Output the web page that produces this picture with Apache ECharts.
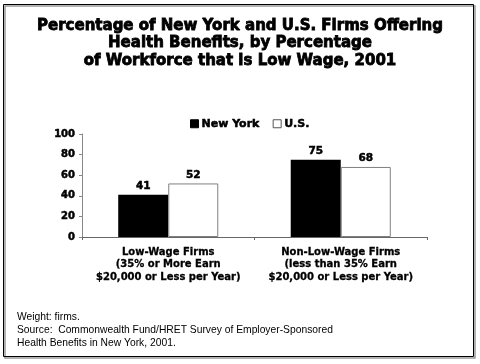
<!DOCTYPE html>
<html>
<head>
<meta charset="utf-8">
<script src="https://cdn.jsdelivr.net/npm/echarts@6/dist/echarts.min.js"></script>
<style>html,body{margin:0;padding:0;background:#fff;}#c{width:480px;height:364px;}</style>
</head>
<body>
<div id="c"></div>
<script>
var categories = ['Low-Wage Firms\n(35% or More Earn\n$20,000 or Less per Year)', 'Non-Low-Wage Firms\n(less than 35% Earn\n$20,000 or Less per Year)'];
var newYork = [41, 75];
var us = [52, 68];
var yTicks = [0, 20, 40, 60, 80, 100];
var titleText = 'Percentage of New York and U.S. Firms Offering\nHealth Benefits, by Percentage\nof Workforce that is Low Wage, 2001';
var footerText = 'Weight: firms.\nSource:  Commonwealth Fund/HRET Survey of Employer-Sponsored\nHealth Benefits in New York, 2001.';

var chart = echarts.init(document.getElementById('c'));
var boldFont = 'DejaVu Sans';
var heavy = { textBorderColor: '#000', textBorderWidth: 0.5 };
chart.setOption({
  animation: false,
  backgroundColor: '#fff',
  title: {
    text: titleText,
    left: 'center',
    top: 12,
    textStyle: Object.assign({ fontFamily: boldFont, fontWeight: 'bold', fontSize: 15, lineHeight: 17.5, color: '#000' }, { textBorderColor: '#000', textBorderWidth: 0.8 })
  },
  legend: {
    top: 118,
    left: 190,
    padding: 0,
    itemWidth: 8,
    itemHeight: 8,
    itemGap: 13,
    icon: 'rect',
    textStyle: Object.assign({ fontFamily: boldFont, fontWeight: 'bold', fontSize: 11, color: '#000', padding: [0, 0, 0, -2] }, heavy),
    data: [
      { name: 'New York', itemStyle: { color: '#000', borderColor: '#000', borderWidth: 1 } },
      { name: 'U.S.', itemStyle: { color: '#fff', borderColor: '#555', borderWidth: 1 } }
    ]
  },
  grid: { left: 82, right: 53, top: 134, bottom: 127, containLabel: false },
  xAxis: {
    type: 'category',
    data: categories,
    axisLine: { lineStyle: { color: '#666', width: 1 } },
    axisTick: { show: true, length: 3, inside: false, lineStyle: { color: '#666' } },
    axisLabel: Object.assign({ interval: 0, fontFamily: boldFont, fontWeight: 'bold', fontSize: 10, lineHeight: 12.5, color: '#000', margin: 9 }, { textBorderColor: '#000', textBorderWidth: 0.3 })
  },
  yAxis: {
    type: 'value',
    min: 0, max: 100, interval: 20,
    axisLine: { show: true, lineStyle: { color: '#888', width: 1 } },
    axisTick: { show: true, length: 3, lineStyle: { color: '#888' } },
    splitLine: { show: false },
    axisLabel: Object.assign({ fontFamily: boldFont, fontWeight: 'bold', fontSize: 10, color: '#000', margin: 7,
      formatter: function (v) { return yTicks.indexOf(v) >= 0 ? String(v) : ''; } }, heavy)
  },
  series: [
    {
      name: 'New York', type: 'bar', data: newYork,
      barGap: '0%', barCategoryGap: '42%',
      itemStyle: { color: '#000' },
      label: Object.assign({ show: true, position: 'top', distance: 3, fontFamily: boldFont, fontWeight: 'bold', fontSize: 10.5, color: '#000' }, heavy)
    },
    {
      name: 'U.S.', type: 'bar', data: us,
      itemStyle: { color: '#fff', borderColor: '#808080', borderWidth: 1 },
      label: Object.assign({ show: true, position: 'top', distance: 3, fontFamily: boldFont, fontWeight: 'bold', fontSize: 10.5, color: '#000' }, heavy)
    }
  ],
  graphic: [
    { type: 'rect', shape: { x: 5, y: 6, width: 470, height: 352 }, style: { fill: 'none', stroke: '#999', lineWidth: 1.5 }, z: 100 },
    { type: 'rect', shape: { x: 3.5, y: 4.5, width: 470, height: 352 }, style: { fill: 'none', stroke: '#000', lineWidth: 1 }, z: 101 },
    { type: 'text', left: 17, top: 311, style: { text: footerText, font: '10.3px "Liberation Sans"', lineHeight: 13, fill: '#000' }, z: 100 }
  ]
});
</script>
</body>
</html>
